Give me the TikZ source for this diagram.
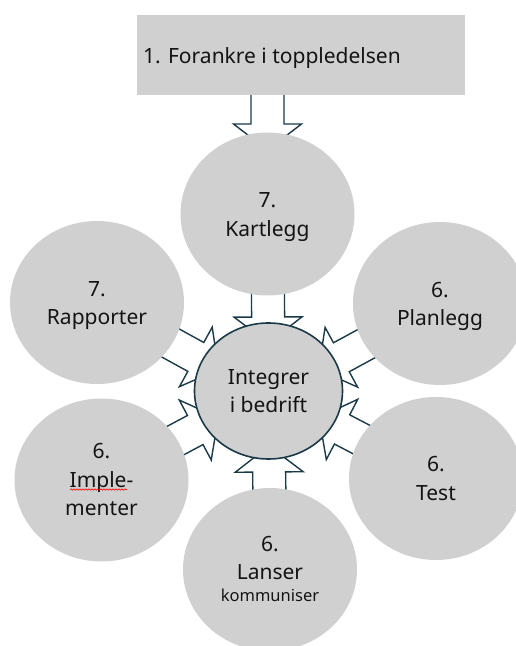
\documentclass[tikz,border=0pt]{standalone}
\usepackage{fontspec}
\setmainfont{Noto Sans}
\usetikzlibrary{shapes.geometric,calc,decorations.pathmorphing}
\definecolor{circfill}{HTML}{D0D0D0}
\definecolor{arrcol}{HTML}{1B3A48}
\definecolor{txtcol}{HTML}{141414}
\pgfdeclarelayer{bg}
\pgfsetlayers{bg,main}
% #1 name prefix, #2 tail node, #3 target node, #4 head-base distance from target, #5 shaft length
\newcommand{\blockarrow}[5]{%
  \coordinate (#1m) at ($(#3)!#4pt!(#2)$);
  \coordinate (#1t) at ($(#3)!#4pt-26pt!(#2)$);
  \coordinate (#1e) at ($(#3)!#4pt+#5pt!(#2)$);
  \draw[arr] (#1t) -- ($(#1m)!34pt!90:(#2)$) -- ($(#1m)!16.5pt!90:(#2)$)
    -- ($(#1e)!16.5pt!-90:(#3)$) -- ($(#1e)!16.5pt!90:(#3)$)
    -- ($(#1m)!16.5pt!-90:(#2)$) -- ($(#1m)!34pt!-90:(#2)$) -- cycle;
}
\begin{document}
\begin{tikzpicture}[x=1pt,y=1pt,
  bubble/.style={ellipse, fill=circfill, inner sep=0pt, minimum width=174pt, minimum height=163pt},
  hub/.style={ellipse, fill=circfill, draw=arrcol, line width=1.6pt, inner sep=0pt, minimum width=148pt, minimum height=136pt},
  topbox/.style={rectangle, fill=circfill, inner sep=0pt, minimum width=328pt, minimum height=80pt},
  lbl/.style={font=\fontsize{21}{28.5}\selectfont, align=center, inner sep=0pt, text=txtcol},
  arr/.style={draw=arrcol, line width=1.4pt, line join=miter},
  squiggle/.style={draw=red, line width=0.6pt, decorate, decoration={snake, amplitude=0.7pt, segment length=3pt}}]
\useasboundingbox (0,0) rectangle (516,646);
% shapes
\node[topbox] (top) at (301,591) {};
\node[bubble] (kart) at (267.5,432) {};
\node[bubble] (rap) at (97,343.5) {};
\node[bubble] (plan) at (440,342.5) {};
\node[bubble] (test) at (436,167.5) {};
\node[bubble] (impl) at (101.5,166) {};
\node[bubble] (lans) at (270,76.5) {};
\node[hub] (cen) at (268.5,255) {};
% texts
\node[lbl, anchor=base] (topT) at ($(top)+(-29,-8.3)$) {1. Forankre i toppledelsen};
\node[lbl] (kartT) at ([yshift=-3pt]kart.center) {7.\\Kartlegg};
\node[lbl] (rapT) at ([yshift=-3pt]rap.center) {7.\\Rapporter};
\node[lbl] (planT) at ([yshift=-2.7pt]plan.center) {6.\\Planlegg};
\node[lbl] (testT) at (test.center) {6.\\Test};
\node[lbl] (implT) at (impl.center) {6.\\Imple-\\menter};
\node[lbl] (lansT) at ([yshift=1pt]lans.center) {6.\\Lanser\\[-7pt]{\fontsize{16.5}{28.5}\selectfont kommuniser}};
\node[lbl] (cenT) at (cen.center) {Integrer\\i bedrift};
\draw[squiggle] ($(implT)+(-31.5,-9.5)$) -- ($(implT)+(25.5,-9.5)$);
% arrows behind
\begin{pgfonlayer}{bg}
  \fill[white] (0,0) rectangle (516,646);
  \coordinate (topfoot) at (kart |- top.south);
  \coordinate (cenU) at ($(cen)+(0,-6)$);
  \blockarrow{a0}{topfoot}{kart}{90}{40}
  \blockarrow{a1}{kart}{cen}{74}{50}
  \blockarrow{a2}{lans}{cen}{81}{40}
  \blockarrow{a3}{rap}{cenU}{83}{50}
  \blockarrow{a4}{plan}{cenU}{83}{50}
  \blockarrow{a5}{test}{cen}{83}{50}
  \blockarrow{a6}{impl}{cen}{83}{50}
\end{pgfonlayer}
\end{tikzpicture}
\end{document}
